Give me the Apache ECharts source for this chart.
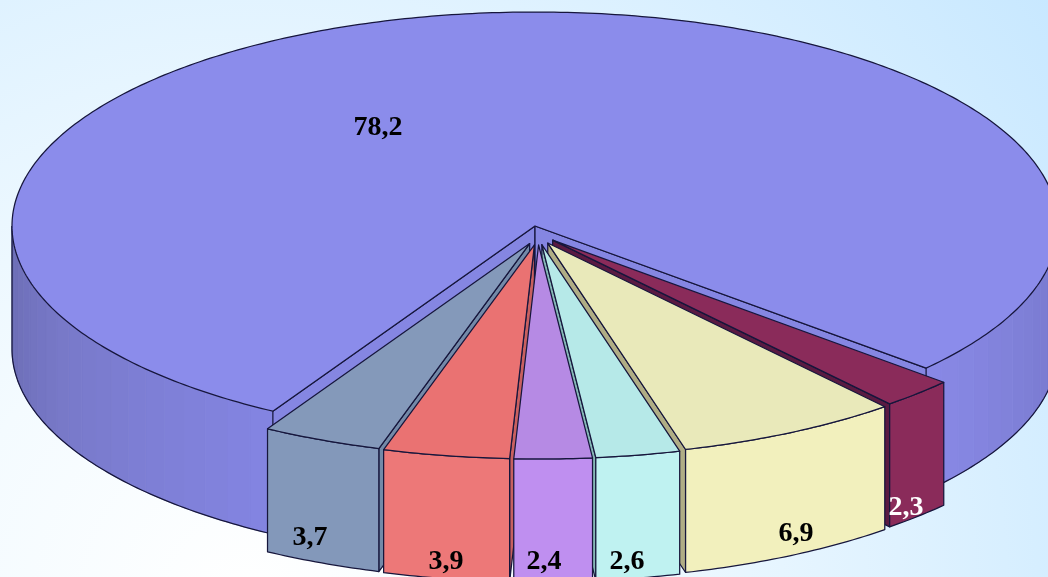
<!DOCTYPE html>
<html><head><meta charset="utf-8">
<style>html,body{margin:0;padding:0;width:1048px;height:577px;overflow:hidden}#c{width:1048px;height:577px}</style>
<script src="https://cdn.jsdelivr.net/npm/echarts@6/dist/echarts.min.js"></script>
</head><body><div id="c"></div>
<script>
// data, clockwise from the right-hand edge of the big slice
const values = [2.3, 6.9, 2.6, 2.4, 3.9, 3.7, 78.2];
const tickLabels = ['2,3', '6,9', '2,6', '2,4', '3,9', '3,7', '78,2'];
const labelColors = ['#ffffff', '#000000', '#000000', '#000000', '#000000', '#000000', '#000000'];
const topColors = ['#8a2b5a', '#e9e9ba', '#b6e9e8', '#b68ae4', '#ea7272', '#8499ba', '#8b8ceb'];
const wallColors = ['#8a2b5a', '#f2f0bd', '#bff2f1', '#bf8ff0', '#ed7878', '#8398ba', '#8080dc'];
const sideColors = ['#5a1a42', '#b0ad85', '#86b8b6', '#8a62b0', '#c86060', '#7389a8', '#8586e2'];
// layout
const cx = 535, cy = 226, rx = 523, ry = 214, depth = 123, startAngle = 41.6;
const explodeX = 21, explodeY = 17, shiftX = 3, shiftY = 2;
const drawOrder = [6, 0, 1, 2, 5, 4, 3];
const labelSpots = [[906, 508], [796, 534], [627, 562], [544, 562], [446, 562], [310, 538], [378, 128]];
const mainWallStops = [[0, '#7476c8'], [42, '#8989e6'], [120, '#8485e2'], [150, '#7a7bcc'], [180, '#6a6bb2']];
const facetStep = 3;

const total = values.reduce((a, b) => a + b, 0);
const rad = d => d * Math.PI / 180;
function hex(c) { return [1, 3, 5].map(i => parseInt(c.substr(i, 2), 16)); }
function wallShade(a) {
  a = ((a % 360) + 360) % 360;
  for (let i = 1; i < mainWallStops.length; i++) {
    const [a0, c0] = mainWallStops[i - 1], [a1, c1] = mainWallStops[i];
    if (a <= a1) {
      const t = (a - a0) / (a1 - a0), p = hex(c0), q = hex(c1);
      return 'rgb(' + p.map((v, k) => Math.round(v + (q[k] - v) * t)).join(',') + ')';
    }
  }
  return mainWallStops[mainWallStops.length - 1][1];
}
function sliceAngles(i) {
  let s = startAngle;
  for (let k = 0; k < i; k++) s += values[k] / total * 360;
  return [s, s + values[i] / total * 360];
}
const LINE = '#16163c';
const LW = 1.25;
function renderSlice(params, api) {
  const i = api.value(0), [a0, a1] = sliceAngles(i), isMain = i === values.length - 1;
  const mid = (a0 + a1) / 2;
  const ox = isMain ? 0 : shiftX + explodeX * Math.cos(rad(mid));
  const oy = isMain ? 0 : shiftY + explodeY * Math.sin(rad(mid));
  const ax = cx + ox, ay = cy + oy;
  const pt = a => [ax + rx * Math.cos(rad(a)), ay + ry * Math.sin(rad(a))];
  const down = p => [p[0], p[1] + depth];
  const children = [];
  const poly = (points, fill, stroke, w) => children.push({
    type: 'polygon', shape: { points }, silent: true,
    style: { fill, stroke: stroke || fill, lineWidth: w === undefined ? 0.8 : w, lineJoin: 'round' }
  });
  const line = (points, w) => children.push({
    type: 'polyline', shape: { points }, silent: true,
    style: { fill: 'none', stroke: LINE, lineWidth: w || LW, lineJoin: 'round' }
  });
  const arc = (from, to) => {
    const n = Math.max(2, Math.ceil(Math.abs(to - from) / 0.75)), out = [];
    for (let k = 0; k <= n; k++) out.push(pt(from + (to - from) * k / n));
    return out;
  };
  const apex = [ax, ay];
  if (isMain) {
    // outer wall, only the part that faces the viewer, in flat facets
    [[a0, 180], [360, a1]].forEach(([f, t]) => {
      for (let s = f; s < t; s += facetStep) {
        const e = Math.min(s + facetStep, t), pts = arc(s, e);
        poly(pts.concat(pts.slice().reverse().map(down)), wallShade((s + e) / 2));
      }
      line(arc(f, t).map(down));
    });
    line([pt(180), down(pt(180))]);
    // walls of the notch
    poly([apex, pt(a0), down(pt(a0)), down(apex)], sideColors[i], LINE, LW);
    poly([apex, pt(a1), down(pt(a1)), down(apex)], sideColors[i], LINE, LW);
  } else {
    const visibleSide = mid < 90 ? a1 : a0;
    if (!(a0 < 90 && a1 > 90)) {
      poly([apex, pt(visibleSide), down(pt(visibleSide)), down(apex)], sideColors[i], LINE, LW);
    }
    const pts = arc(a0, a1);
    poly(pts.concat(pts.slice().reverse().map(down)), wallColors[i], LINE, LW);
  }
  poly([apex].concat(arc(a0, a1)), topColors[i], LINE, LW);
  const spot = labelSpots[i];
  children.push({
    type: 'text', silent: true, z2: 10,
    style: {
      x: spot[0], y: spot[1], text: tickLabels[i], fill: labelColors[i],
      font: 'bold 28px "Liberation Serif", serif', align: 'center', verticalAlign: 'middle'
    }
  });
  return { type: 'group', children };
}
const chart = echarts.init(document.getElementById('c'), null, { renderer: 'canvas' });
chart.setOption({
  animation: false,
  backgroundColor: {
    type: 'radial', global: true, x: 250, y: 600, r: 1000,
    colorStops: [{ offset: 0, color: '#ffffff' }, { offset: 0.3, color: '#f4fbff' }, { offset: 0.65, color: '#dff2ff' }, { offset: 1, color: '#c8e8ff' }]
  },
  series: [{
    type: 'custom', coordinateSystem: 'none', clip: false,
    renderItem: renderSlice,
    data: drawOrder.map(i => ({ name: tickLabels[i], value: [i, values[i]] }))
  }]
});
</script></body></html>
